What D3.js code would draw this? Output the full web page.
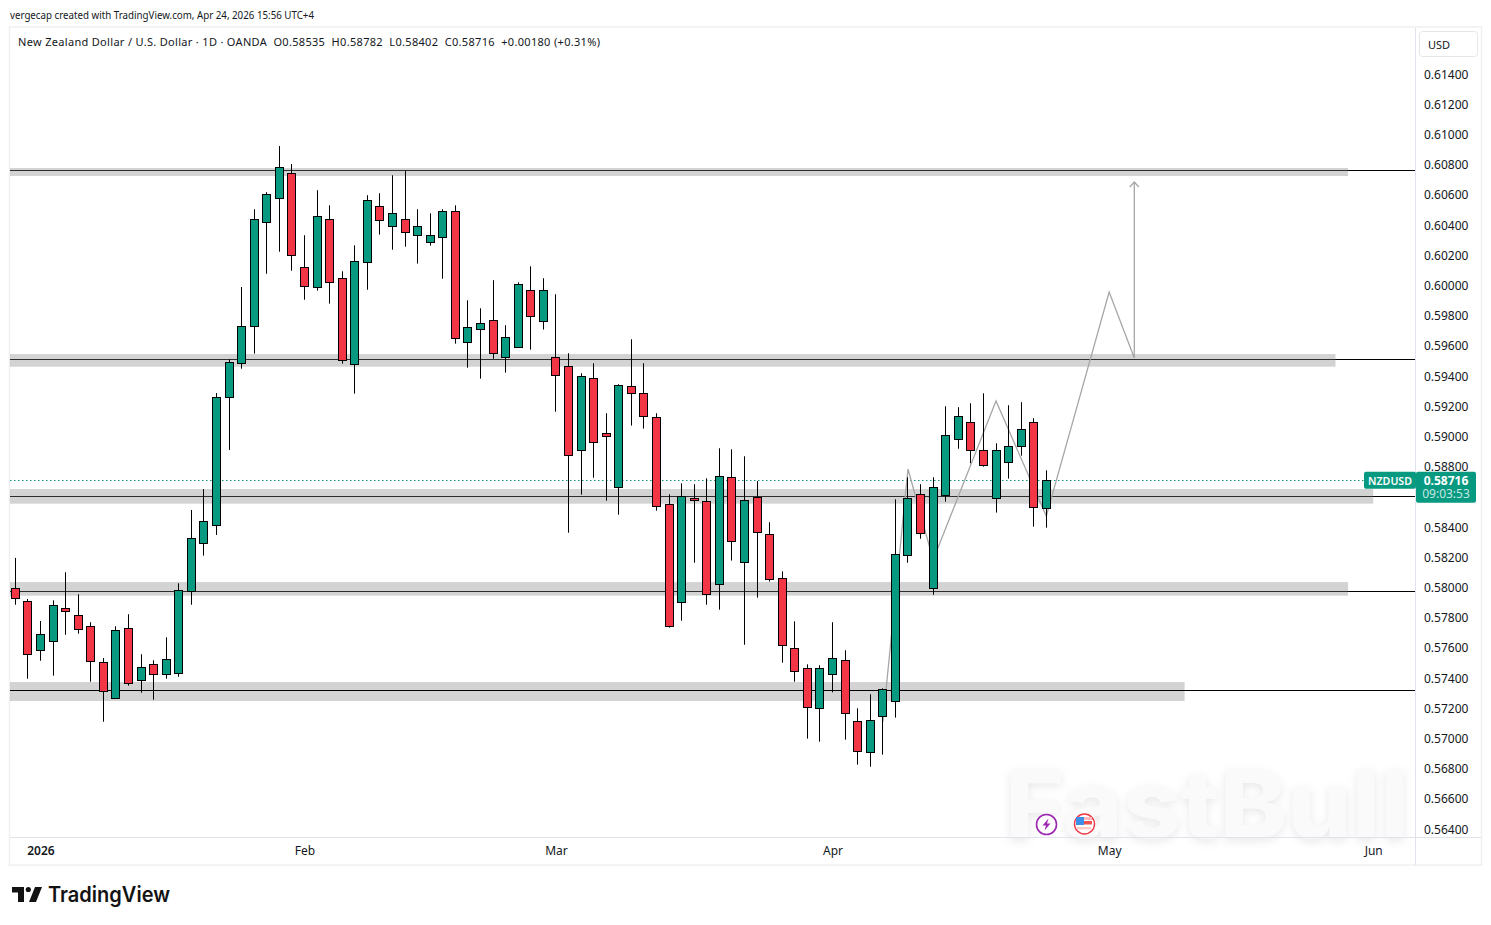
<!DOCTYPE html>
<html><head><meta charset="utf-8"><title>NZDUSD</title>
<script src="https://cdn.jsdelivr.net/npm/d3@7/dist/d3.min.js"></script>
<style>html,body{margin:0;background:#fff}svg{display:block}text{font-family:"Noto Sans",sans-serif}</style>
</head><body><svg id="c" width="1491" height="925"></svg>
<script>
const opens=[.58001,.57917,.57590,.57650,.57868,.57822,.57749,.57511,.57272,.57736,.57391,.57497,.57431,.57438,.57981,.58299,.58420,.59270,.59491,.59736,.60425,.60584,.60749,.60127,.59994,.60445,.60054,.59484,.60160,.60531,.60398,.60445,.60339,.60292,.60325,.60498,.59630,.59716,.59776,.59531,.59597,.59974,.59769,.59531,.59471,.58915,.59392,.59027,.58670,.59339,.59292,.59133,.58557,.57908,.58597,.58577,.58027,.58736,.58173,.58604,.58358,.58067,.57603,.57471,.57206,.57431,.57524,.57120,.56915,.57153,.57252,.58219,.58623,.58001,.58617,.58988,.59100,.58915,.58597,.58835,.58941,.59100,.58535];
const highs=[.58202,.57930,.57784,.57921,.58107,.57961,.57776,.57539,.57749,.57829,.57564,.57524,.57676,.58034,.58519,.58658,.59294,.59517,.59996,.60511,.60624,.60930,.60811,.60339,.60637,.60537,.60100,.60272,.60604,.60617,.60736,.60765,.60511,.60484,.60511,.60537,.59908,.59855,.60041,.59743,.60027,.60133,.60054,.59948,.59557,.59425,.59491,.59160,.59352,.59650,.59491,.59160,.58623,.58696,.58690,.58729,.58928,.58921,.58875,.58711,.58438,.58113,.57782,.57497,.57491,.57776,.57590,.57206,.57299,.57338,.58590,.58736,.58690,.58736,.59206,.59200,.59226,.59292,.58961,.59213,.59233,.59127,.58782];
const lows=[.57892,.57402,.57521,.57422,.57693,.57700,.57382,.57117,.57272,.57356,.57309,.57263,.57402,.57415,.57892,.58217,.58354,.58917,.59455,.59555,.60084,.60230,.60104,.59912,.59972,.59886,.59488,.59290,.59978,.60343,.60243,.60263,.60151,.60270,.60051,.59621,.59462,.59389,.59521,.59429,.59597,.59581,.59714,.59170,.58369,.58621,.58733,.58581,.58488,.59078,.59058,.58515,.57740,.57786,.58170,.57892,.57859,.58184,.57627,.57939,.58045,.57508,.57382,.57005,.56985,.57312,.56998,.56833,.56819,.56899,.57144,.58170,.58329,.57958,.58574,.58925,.58829,.58806,.58502,.58727,.58879,.58409,.58402];
const closes=[.57935,.57566,.57696,.57888,.57848,.57729,.57517,.57319,.57723,.57372,.57478,.57431,.57531,.57988,.58334,.58447,.59266,.59498,.59736,.60445,.60610,.60789,.60206,.60001,.60465,.60027,.59511,.60167,.60570,.60438,.60484,.60359,.60398,.60339,.60498,.59656,.59729,.59756,.59557,.59663,.60014,.59802,.59974,.59411,.58882,.59405,.58968,.59008,.59345,.59292,.59140,.58544,.57749,.58610,.58584,.57961,.58743,.58312,.58584,.58372,.58060,.57623,.57451,.57213,.57471,.57537,.57173,.56921,.57127,.57332,.58226,.58597,.58365,.58670,.59014,.59140,.58915,.58815,.58915,.58941,.59054,.58536,.58716];
const priceTicks=[.614,.612,.61,.608,.606,.604,.602,.6,.598,.596,.594,.592,.59,.588,.584,.582,.58,.578,.576,.574,.572,.57,.568,.566,.564];
const timeIdx=[2,23,43,65,87,108];
const timeLabels=["2026","Feb","Mar","Apr","May","Jun"];
const levels=[.60769,.59519,.5861,.57985,.57325];
const zoneTops=[.60784,.59552,.58658,.58042,.5738];
const zoneBottoms=[.60731,.59468,.58561,.57952,.57254];
const zoneEnds=[106,105,108,106,93];
const pathIdx=[69,71,73,78,82,87,89,89];
const pathPrice=[.57115,.58791,.58188,.59241,.58479,.59963,.59526,.60691];
const lastClose=.58716;

const F='"Noto Sans",sans-serif';
const svg=d3.select("#c");
const x=d3.scaleLinear().domain([0,82]).range([15.3,1046.3]);
const y=d3.scaleLinear().domain([.564,.614]).range([830,75]);
const L=10,R=1415,T=28,B=837,W=1481,H=865;

// frame
svg.append("rect").attr("x",L-.5).attr("y",T-1).attr("width",W-L+1).attr("height",H-T+1).attr("fill","#fff").attr("stroke","#f0f0f0").attr("stroke-width",1.5);

// watermark
const wm=svg.append("g").style("filter","drop-shadow(0 3px 5px rgba(0,0,0,.09))");
wm.append("text").attr("x",1005).attr("y",838).attr("font-size",94).attr("font-weight",800).attr("fill","#fafafa").style("font-family",'Inter,"Noto Sans",sans-serif').attr("textLength",404).attr("lengthAdjust","spacingAndGlyphs").text("FastBull");

const plot=svg.append("g");
// levels: line below translucent zone except for the last one
levels.forEach((p,i)=>{
  const addZone=()=>plot.append("rect").attr("x",L).attr("width",x(zoneEnds[i])-L).attr("y",y(zoneTops[i])).attr("height",y(zoneBottoms[i])-y(zoneTops[i])).attr("fill","rgba(128,128,128,.35)");
  const addLine=()=>plot.append("line").attr("x1",L).attr("x2",R).attr("y1",Math.round(y(p))+.5).attr("y2",Math.round(y(p))+.5).attr("stroke","#000").attr("stroke-width",1);
  if(i===4){addZone();addLine();}else{addLine();addZone();}
});
// last price dotted
plot.append("line").attr("x1",L).attr("x2",1364).attr("y1",Math.round(y(lastClose))+.5).attr("y2",Math.round(y(lastClose))+.5).attr("stroke","#089981").attr("stroke-dasharray","1.5 2.5").attr("stroke-width",1);
// projection path
const line=d3.line().x((d,i)=>x(pathIdx[i])).y(d=>y(d));
plot.append("path").attr("d",line(pathPrice)).attr("fill","none").attr("stroke","#a6a6a6").attr("stroke-width",1.3);
const tipX=x(pathIdx[7]),tipY=y(pathPrice[7]);
plot.append("path").attr("d",`M${tipX-4.5},${tipY+5}L${tipX},${tipY}L${tipX+4.5},${tipY+5}`).attr("fill","none").attr("stroke","#a6a6a6").attr("stroke-width",1.3);

// candles
const cg=plot.append("g").selectAll("g").data(opens).join("g");
cg.append("line").attr("x1",(d,i)=>Math.floor(x(i))+.5).attr("x2",(d,i)=>Math.floor(x(i))+.5)
  .attr("y1",(d,i)=>y(highs[i])).attr("y2",(d,i)=>y(lows[i])).attr("stroke","#000").attr("stroke-width",1);
cg.append("rect").attr("x",(d,i)=>Math.floor(x(i))-3.5).attr("width",8)
  .attr("y",(d,i)=>Math.round(y(Math.max(opens[i],closes[i])))+.5)
  .attr("height",(d,i)=>Math.max(2,Math.round(y(Math.min(opens[i],closes[i])))-Math.round(y(Math.max(opens[i],closes[i])))))
  .attr("fill",(d,i)=>closes[i]>=opens[i]?"#089981":"#f23645").attr("stroke","#000").attr("stroke-width",1);

// separators
svg.append("line").attr("x1",R+.5).attr("x2",R+.5).attr("y1",T).attr("y2",H).attr("stroke","#e0e3eb");
svg.append("line").attr("x1",L).attr("x2",W).attr("y1",B+.5).attr("y2",B+.5).attr("stroke","#e0e3eb");

// axes
const ya=svg.append("g").attr("transform",`translate(${R},-0.7)`).call(d3.axisRight(y).tickValues(priceTicks).tickFormat(d3.format(".5f")).tickSize(0).tickPadding(9));
ya.select(".domain").remove();
ya.selectAll("text").attr("font-size",12).attr("fill","#131722").style("font-family",F);
const xa=svg.append("g").attr("transform",`translate(0,${B})`).call(d3.axisBottom(x).tickValues(timeIdx).tickFormat((d,i)=>timeLabels[i]).tickSize(0).tickPadding(9));
xa.select(".domain").remove();
xa.selectAll("text").attr("font-size",12).attr("fill","#131722").style("font-family",F);
xa.selectAll("text").filter((d,i)=>i===0).attr("font-weight",600);

// header texts
svg.append("text").attr("x",10).attr("y",19).attr("font-size",11).attr("fill","#131722").attr("textLength",304).attr("lengthAdjust","spacingAndGlyphs").text("vergecap created with TradingView.com, Apr 24, 2026 15:56 UTC+4");
svg.append("text").attr("x",18).attr("y",46).attr("font-size",11).attr("fill","#131722").attr("textLength",582).attr("lengthAdjust","spacing").attr("xml:space","preserve").style("white-space","pre").text("New Zealand Dollar / U.S. Dollar · 1D · OANDA  O0.58535  H0.58782  L0.58402  C0.58716  +0.00180 (+0.31%)");

// USD button
svg.append("rect").attr("x",1419.5).attr("y",31.5).attr("width",58).attr("height",25).attr("rx",3).attr("fill","#fff").attr("stroke","#e6e6e6");
svg.append("text").attr("x",1428).attr("y",49).attr("font-size",11).attr("fill","#131722").text("USD");

// price labels
const ly=y(lastClose);
svg.append("rect").attr("x",1364).attr("y",ly-8.5).attr("width",52).attr("height",17).attr("rx",2).attr("fill","#089981");
svg.append("text").attr("x",1390).attr("y",ly+4.5).attr("text-anchor","middle").attr("font-size",11).attr("font-weight",600).attr("fill","#fff").attr("textLength",44).attr("lengthAdjust","spacingAndGlyphs").text("NZDUSD");
svg.append("rect").attr("x",1416).attr("y",ly-8.5).attr("width",60).attr("height",31).attr("rx",2).attr("fill","#089981");
svg.append("text").attr("x",1446).attr("y",ly+4.5).attr("text-anchor","middle").attr("font-size",12).attr("font-weight",700).attr("fill","#fff").text(d3.format(".5f")(lastClose));
svg.append("text").attr("x",1446).attr("y",ly+18).attr("text-anchor","middle").attr("font-size",12).attr("fill","#c6e8e1").text("09:03:53");

// event icons
svg.append("circle").attr("cx",1046.5).attr("cy",824.5).attr("r",10).attr("fill","#fff").attr("stroke","#9c27b0").attr("stroke-width",1.6);
svg.append("path").attr("d","M1048.5,818.5L1042.5,825.5L1046,825.5L1044.5,830.5L1050.5,823.5L1047,823.5Z").attr("fill","#9c27b0");
svg.append("circle").attr("cx",1084.5).attr("cy",824).attr("r",10).attr("fill","#fff").attr("stroke","#f23645").attr("stroke-width",1.4);
svg.append("rect").attr("x",1077).attr("y",817).attr("width",15).attr("height",3).attr("fill","#fbb");
svg.append("rect").attr("x",1076).attr("y",821).attr("width",16).attr("height",3.5).attr("fill","#ef5350");
svg.append("rect").attr("x",1077).attr("y",827).attr("width",14).attr("height",2.5).attr("fill","#fcc");
svg.append("rect").attr("x",1076).attr("y",817).attr("width",8).attr("height",8).attr("fill","#3d8fe8");

// logo
const logo=svg.append("g").attr("fill","#131313");
logo.append("path").attr("d","M12,887H24V902H18V892.5H12Z");
logo.append("circle").attr("cx",28.3).attr("cy",889.5).attr("r",2.6);
logo.append("path").attr("d","M35,887H42L36,902H29Z");
svg.append("text").attr("x",48).attr("y",902).attr("font-size",21).attr("font-weight",600).attr("fill","#131313").style("font-family",'Inter,sans-serif').attr("textLength",122).attr("lengthAdjust","spacingAndGlyphs").text("TradingView");
</script></body></html>
